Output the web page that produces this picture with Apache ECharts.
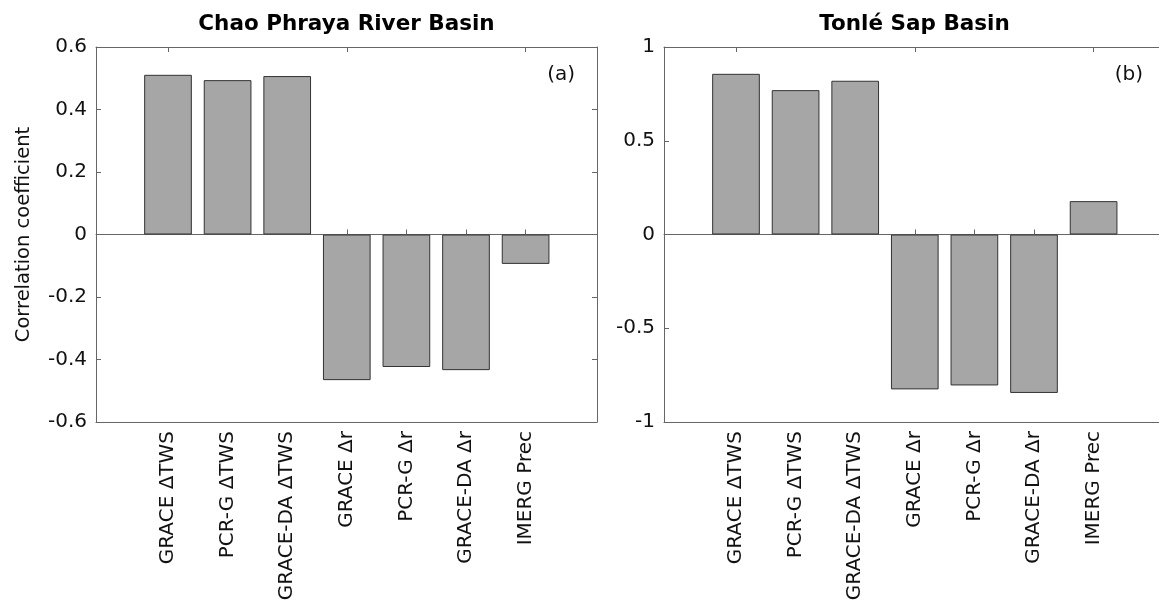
<!DOCTYPE html>
<html>
<head>
<meta charset="utf-8">
<script src="https://cdn.jsdelivr.net/npm/echarts@6/dist/echarts.min.js"></script>
<style>
html, body { margin: 0; background: #fff; }
#chart { width: 1159px; height: 608px; }
</style>
</head>
<body>
<div id="chart"></div>
<script>
// data
var categories = ['GRACE ΔTWS', 'PCR-G ΔTWS', 'GRACE-DA ΔTWS', 'GRACE Δr', 'PCR-G Δr', 'GRACE-DA Δr', 'IMERG Prec'];
var chaoPhraya = [0.511, 0.494, 0.507, -0.466, -0.424, -0.434, -0.094];
var tonleSap = [0.857, 0.770, 0.820, -0.826, -0.805, -0.845, 0.178];
var panelTitles = ['Chao Phraya River Basin', 'Tonlé Sap Basin'];
var panelLetters = ['(a)', '(b)'];
var yMin = [-0.6, -1];
var yMax = [0.6, 1];
var yStep = [0.2, 0.5];

var FONT = 'DejaVu Sans';
var AXIS_COLOR = '#666';
var TEXT_COLOR = '#111';

// panel geometry (axes box, plus inner box holding the 7 bar slots)
var boxLeft = [96, 664];
var boxWidth = 501;
var boxTop = 47;
var boxHeight = 375;
var slot = 59.6;
var innerPad = 72 - slot / 2;

var chart = echarts.init(document.getElementById('chart'));

var grids = [], xAxes = [], yAxes = [], series = [], titles = [];
var values = [chaoPhraya, tonleSap];
var frameLine = { show: true, onZero: false, lineStyle: { color: AXIS_COLOR, width: 1 } };
var inTick = { show: true, inside: true, length: 5, lineStyle: { color: AXIS_COLOR } };

for (var p = 0; p < 2; p++) {
    // outer box: frame, y ticks, zero baseline (right panel runs off the page like the original)
    grids.push({ left: boxLeft[p], top: boxTop, width: boxWidth, height: boxHeight, outerBoundsMode: 'none', containLabel: false });
    // inner box for the category axis
    grids.push({ left: boxLeft[p] + innerPad, top: boxTop, width: slot * 7, height: boxHeight, outerBoundsMode: 'none', containLabel: false });

    var outerGrid = p * 2, innerGrid = p * 2 + 1;
    var xi = xAxes.length, yi = yAxes.length;

    // frame bottom, frame top, zero line
    xAxes.push({ gridIndex: outerGrid, type: 'value', min: 0, max: 1, position: 'bottom',
        axisLine: frameLine, axisTick: { show: false }, axisLabel: { show: false }, splitLine: { show: false } });
    xAxes.push({ gridIndex: outerGrid, type: 'value', min: 0, max: 1, position: 'top',
        axisLine: frameLine, axisTick: { show: false }, axisLabel: { show: false }, splitLine: { show: false } });
    xAxes.push({ gridIndex: outerGrid, type: 'value', min: 0, max: 1, position: 'bottom',
        axisLine: { show: true, onZero: true, onZeroAxisIndex: yi, lineStyle: { color: AXIS_COLOR, width: 1 } },
        axisTick: { show: false }, axisLabel: { show: false }, splitLine: { show: false } });
    // categories with ticks at bottom and top
    xAxes.push({
        gridIndex: innerGrid, type: 'category', data: categories, position: 'bottom',
        axisLine: { show: false },
        axisTick: { show: true, inside: true, alignWithLabel: true, length: 5, lineStyle: { color: AXIS_COLOR } },
        axisLabel: { rotate: 90, margin: 9, fontFamily: FONT, fontSize: 20, color: TEXT_COLOR }
    });
    xAxes.push({
        gridIndex: innerGrid, type: 'category', data: categories, position: 'top',
        axisLine: { show: false },
        axisTick: { show: true, inside: true, alignWithLabel: true, length: 5, lineStyle: { color: AXIS_COLOR } },
        axisLabel: { show: false }
    });

    yAxes.push({
        gridIndex: outerGrid, type: 'value', position: 'left',
        min: yMin[p], max: yMax[p], interval: yStep[p],
        name: p === 0 ? 'Correlation coefficient' : '',
        nameLocation: 'middle', nameGap: 62,
        nameTextStyle: { fontFamily: FONT, fontSize: 19.5, color: TEXT_COLOR },
        axisLine: frameLine, axisTick: inTick,
        axisLabel: { fontFamily: FONT, fontSize: 20, color: TEXT_COLOR, margin: 9 },
        splitLine: { show: false }
    });
    yAxes.push({
        gridIndex: outerGrid, type: 'value', position: 'right',
        min: yMin[p], max: yMax[p], interval: yStep[p],
        axisLine: frameLine, axisTick: inTick,
        axisLabel: { show: false }, splitLine: { show: false }
    });
    yAxes.push({
        gridIndex: innerGrid, type: 'value', min: yMin[p], max: yMax[p],
        show: false, splitLine: { show: false }
    });

    series.push({
        type: 'bar', name: panelTitles[p],
        xAxisIndex: xi + 3, yAxisIndex: yi + 2,
        data: values[p], barWidth: '80%',
        itemStyle: { color: '#a6a6a6', borderColor: '#333', borderWidth: 1 },
        z: 3
    });

    titles.push({
        text: panelTitles[p],
        left: boxLeft[p] + boxWidth / 2, top: 13, textAlign: 'center', padding: 0,
        textStyle: { fontFamily: FONT, fontSize: 21.5, fontWeight: 'bold', color: '#000' }
    });
    titles.push({
        text: panelLetters[p],
        right: 1159 - (boxLeft[p] + boxWidth - 22), top: 65, padding: 0,
        textStyle: { fontFamily: FONT, fontSize: 20, fontWeight: 'normal', color: TEXT_COLOR }
    });
}

chart.setOption({
    animation: false,
    title: titles,
    grid: grids,
    xAxis: xAxes,
    yAxis: yAxes,
    series: series
});
</script>
</body>
</html>
